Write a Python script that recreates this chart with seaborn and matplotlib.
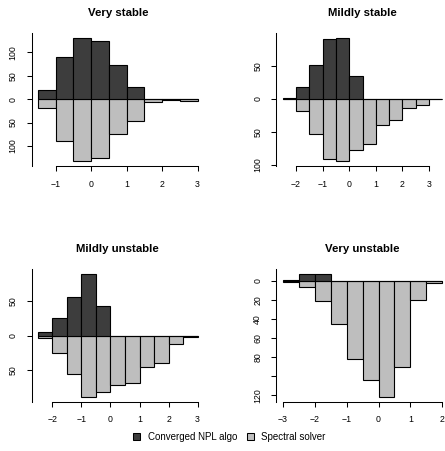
import numpy as np
import pandas as pd
import matplotlib
matplotlib.use("Agg")
import matplotlib.pyplot as plt
from matplotlib.patches import Patch
import seaborn as sns

# ---------------- data ----------------
titles = ["Very stable", "Mildly stable", "Mildly unstable", "Very unstable"]
bin_starts = [-1.5, -2.5, -2.5, -3.0]
bin_width = 0.5

npl_vs = [20, 89, 130, 125, 72, 25, 0, 0, 0]
spec_vs = [20, 89, 133, 126, 74, 46, 6, 1, 3]

npl_ms = [1, 18, 52, 91, 92, 35, 0, 0, 0, 0, 0, 0]
spec_ms = [0, 18, 53, 92, 95, 77, 69, 40, 32, 14, 10, 1]

npl_mu = [5, 26, 56, 89, 42, 0, 0, 0, 0, 0, 0]
spec_mu = [4, 26, 56, 89, 82, 72, 69, 46, 40, 12, 2]

npl_vu = [1, 7, 7, 0, 0, 0, 0, 0, 0, 0]
spec_vu = [1, 7, 21, 45, 82, 104, 122, 90, 20, 3]

npl_counts = [npl_vs, npl_ms, npl_mu, npl_vu]
spec_counts = [spec_vs, spec_ms, spec_mu, spec_vu]

x_ticks = [[-1, 0, 1, 2, 3], [-2, -1, 0, 1, 2, 3], [-2, -1, 0, 1, 2, 3], [-3, -2, -1, 0, 1, 2]]
y_ticks = [[-100, -50, 0, 50, 100], [-100, -50, 0, 50], [-50, 0, 50],
           [-120, -100, -80, -60, -40, -20, 0]]
y_labels = [["100", "50", "0", "50", "100"], ["100", "50", "0", "50"], ["50", "0", "50"],
            ["120", "", "80", "60", "40", "20", "0"]]

legend_labels = ["Converged NPL algo", "Spectral solver"]
dark = "#3d3d3d"
light = "#bebebe"

# ---------------- style ----------------
sns.set_theme(style="white")
plt.rcParams["font.family"] = ["Liberation Sans", "DejaVu Sans"]
plt.rcParams["axes.linewidth"] = 0.75
plt.rcParams["xtick.major.width"] = 0.75
plt.rcParams["ytick.major.width"] = 0.75
plt.rcParams["text.color"] = "black"

W, H = 445, 451
fig = plt.figure(figsize=(W / 100, H / 100), dpi=100)
fig.patch.set_facecolor("white")

boxes = [(31.5, 33.3, 172.5, 133.0), (276.3, 33.3, 172.5, 133.0),
         (31.5, 269.0, 172.5, 133.0), (276.3, 269.0, 172.5, 133.0)]

for i in range(4):
    l, t, w, h = boxes[i]
    ax = fig.add_axes([l / W, 1 - (t + h) / H, w / W, h / H])
    n = len(npl_counts[i])
    edges = [bin_starts[i] + bin_width * k for k in range(n + 1)]
    centers = [e + bin_width / 2 for e in edges[:-1]]
    df = pd.DataFrame({"x": centers,
                       "npl": np.array(npl_counts[i], dtype=float),
                       "spec": -np.array(spec_counts[i], dtype=float)})
    sns.histplot(data=df, x="x", weights="spec", bins=edges, ax=ax,
                 color=light, alpha=1, edgecolor="black", linewidth=0.8)
    sns.histplot(data=df, x="x", weights="npl", bins=edges, ax=ax,
                 color=dark, alpha=1, edgecolor="black", linewidth=0.8)

    x0, x1 = edges[0], edges[-1]
    dx = 0.04 * (x1 - x0)
    ax.set_xlim(x0 - dx, x1 + dx)
    lo, hi = -max(spec_counts[i]), max(npl_counts[i])
    dy = 0.04 * (hi - lo)
    ax.set_ylim(lo - dy, hi + dy)

    ax.set_xticks(x_ticks[i])
    ax.set_xticklabels([str(v).replace("-", "\u2212") for v in x_ticks[i]])
    ax.set_yticks(y_ticks[i])
    ax.set_yticklabels(y_labels[i])
    for lab in ax.get_yticklabels():
        lab.set_rotation(90)
        lab.set_va("center")
    ax.tick_params(axis="both", which="major", length=5 * 72 / 100, direction="out",
                   labelsize=6.3, colors="black", bottom=True, left=True)
    ax.tick_params(axis="x", pad=6)
    ax.tick_params(axis="y", pad=6.5)
    for s in ["top", "right"]:
        ax.spines[s].set_visible(False)
    ax.spines["bottom"].set_bounds(x_ticks[i][0], x_ticks[i][-1])
    ax.spines["left"].set_color("black")
    ax.spines["bottom"].set_color("black")
    ax.set_xlabel("")
    ax.set_ylabel("")
    ax.set_title(titles[i], fontsize=8.2, fontweight="bold", pad=12.5, color="black")
    ax.set_facecolor("white")

handles = [Patch(facecolor=dark, edgecolor="black", linewidth=0.75),
           Patch(facecolor=light, edgecolor="black", linewidth=0.75)]
fig.legend(handles, legend_labels, loc="center", bbox_to_anchor=(229.5 / W, 1 - 437 / H),
           ncol=2, frameon=False, fontsize=7, handlelength=0.75, handleheight=0.75,
           handletextpad=0.75, columnspacing=1.0, borderpad=0, labelcolor="black")

fig.savefig("out.png", dpi=100, facecolor="white")
